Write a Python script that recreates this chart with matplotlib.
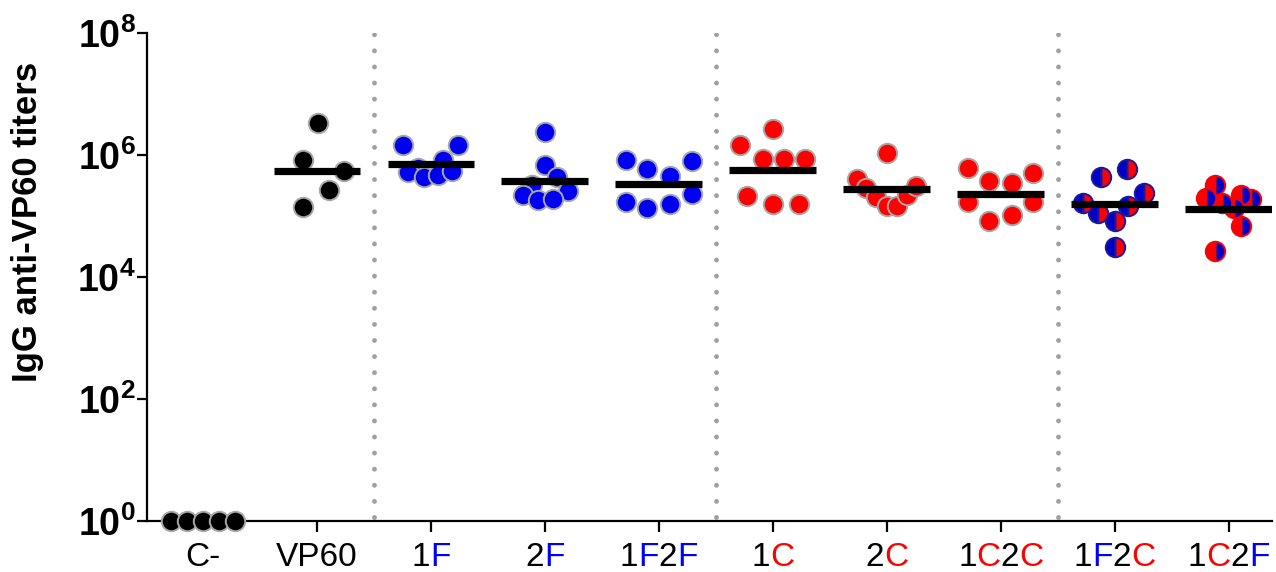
import matplotlib
matplotlib.use('Agg')
import matplotlib.pyplot as plt
import matplotlib.transforms as mtransforms
import numpy as np

plt.rcParams['font.family'] = ['Liberation Sans', 'DejaVu Sans']
plt.rcParams['mathtext.fontset'] = 'custom'
plt.rcParams['mathtext.rm'] = 'Liberation Sans'
plt.rcParams['mathtext.bf'] = 'Liberation Sans:bold'

# ---------------- data (log10 of IgG anti-VP60 titers) ----------------
categories = ['C-', 'VP60', '1F', '2F', '1F2F', '1C', '2C', '1C2C', '1F2C', '1C2F']
BLACK, BLUE, RED = '#000000', '#0000ff', '#ff0000'
label_parts = [
    [('C-', BLACK)],
    [('VP60', BLACK)],
    [('1', BLACK), ('F', BLUE)],
    [('2', BLACK), ('F', BLUE)],
    [('1', BLACK), ('F', BLUE), ('2', BLACK), ('F', BLUE)],
    [('1', BLACK), ('C', RED)],
    [('2', BLACK), ('C', RED)],
    [('1', BLACK), ('C', RED), ('2', BLACK), ('C', RED)],
    [('1', BLACK), ('F', BLUE), ('2', BLACK), ('C', RED)],
    [('1', BLACK), ('C', RED), ('2', BLACK), ('F', BLUE)],
]

cneg_log = [0.0, 0.0, 0.0, 0.0, 0.0]
vp60_log = [6.53, 5.92, 5.74, 5.43, 5.15]
f1_log = [6.16, 6.16, 5.92, 5.79, 5.72, 5.64, 5.67, 5.74]
f2_log = [6.38, 5.84, 5.64, 5.51, 5.41, 5.34, 5.26, 5.28]
f1f2_log = [5.92, 5.77, 5.66, 5.90, 5.36, 5.20, 5.13, 5.23]
c1_log = [6.43, 6.16, 5.93, 5.93, 5.93, 5.33, 5.20, 5.20]
c2_log = [6.03, 5.60, 5.46, 5.31, 5.16, 5.16, 5.34, 5.49]
c1c2_log = [5.79, 5.57, 5.54, 5.70, 5.23, 5.23, 5.02, 4.92]
f1c2_log = [5.64, 5.77, 5.38, 5.21, 5.05, 4.92, 5.16, 4.49]
c1f2_log = [5.51, 5.30, 5.21, 5.34, 5.28, 5.13, 4.84, 4.43]

# geometric means (log10) shown as horizontal bars
gmean_log = [None, 5.74, 5.85, 5.57, 5.52, 5.75, 5.44, 5.36, 5.20, 5.11]

group_values = [cneg_log, vp60_log, f1_log, f2_log, f1f2_log, c1_log,
                c2_log, c1c2_log, f1c2_log, c1f2_log]

# horizontal scatter offsets (layout only)
group_offsets = [
    [-0.28, -0.14, 0.0, 0.14, 0.28],
    [0.01, -0.12, 0.24, 0.11, -0.12],
    [-0.24, 0.24, 0.11, -0.11, -0.20, -0.06, 0.06, 0.19],
    [0.0, 0.0, 0.11, -0.11, 0.20, -0.19, -0.06, 0.07],
    [-0.29, -0.10, 0.10, 0.29, 0.29, 0.10, -0.10, -0.29],
    [0.0, -0.29, -0.09, 0.10, 0.28, -0.23, 0.0, 0.23],
    [0.0, -0.26, -0.18, -0.09, 0.0, 0.09, 0.18, 0.26],
    [-0.29, -0.10, 0.10, 0.28, -0.29, 0.28, 0.10, -0.10],
    [-0.12, 0.11, 0.26, -0.28, -0.15, 0.0, 0.12, 0.0],
    [-0.12, -0.20, -0.06, 0.11, 0.20, 0.05, 0.11, -0.12],
]

separators = [1.5, 4.5, 7.5]
yticks_exp = [0, 2, 4, 6, 8]

# ---------------- styles ----------------
GRAY_EDGE = '#a8a8a8'
styles = [
    dict(mfc='black', mec=GRAY_EDGE),
    dict(mfc='black', mec=GRAY_EDGE),
    dict(mfc='#0000f0', mec=GRAY_EDGE),
    dict(mfc='#0000f0', mec=GRAY_EDGE),
    dict(mfc='#0000f0', mec=GRAY_EDGE),
    dict(mfc='#ff0000', mec=GRAY_EDGE),
    dict(mfc='#ff0000', mec=GRAY_EDGE),
    dict(mfc='#ff0000', mec=GRAY_EDGE),
    dict(mfc='#0000c8', mfcalt='#ff0000', mec='#1a1aa0', fillstyle='left'),
    dict(mfc='#ff0000', mfcalt='#0000c8', mec='#ff0000', fillstyle='left'),
]

W, H, DPI = 12.76, 5.72, 100
fig = plt.figure(figsize=(W, H), dpi=DPI)
ax = fig.add_axes([147 / 1276, 51 / 572, (1272 - 147) / 1276, (521 - 33) / 572])

ax.set_yscale('log')
ax.set_ylim(1, 1e8)
ax.set_xlim(-0.49, 9.38)

for sx in separators:
    ax.plot([sx, sx], [1.15, 1e8], color='#a0a0a0', lw=3.5,
            linestyle=(0, (0.01, 3.3)), dash_capstyle='round', zorder=1)

for i, (vals, offs, st) in enumerate(zip(group_values, group_offsets, styles)):
    xs = i + np.array(offs)
    ys = 10 ** np.array(vals)
    kw = dict(marker='o', linestyle='none', markersize=14, markeredgewidth=1.4,
              markerfacecolor=st['mfc'], markeredgecolor=st['mec'], zorder=3,
              clip_on=False)
    if 'fillstyle' in st:
        kw['fillstyle'] = st['fillstyle']
        kw['markerfacecoloralt'] = st['mfcalt']
    ax.plot(xs, ys, **kw)
    if gmean_log[i] is not None:
        g = 10 ** gmean_log[i]
        ax.plot([i - 0.38, i + 0.38], [g, g], color='black', lw=5.2,
                solid_capstyle='butt', zorder=4)

# axes styling
for s in ['top', 'right']:
    ax.spines[s].set_visible(False)
for s in ['left', 'bottom']:
    ax.spines[s].set_linewidth(1.6)
ax.minorticks_off()
ax.set_yticks([10.0 ** e for e in yticks_exp])
ax.set_yticklabels([r'$\mathbf{10^{%d}}$' % e for e in yticks_exp])
ax.tick_params(axis='y', length=7, width=1.6, labelsize=27, pad=1)
ax.set_xticks(range(len(categories)))
ax.set_xticklabels([''] * len(categories))
ax.tick_params(axis='x', length=8, width=1.6)

fig.text(28 / 1276, (572 - 222) / 572, 'IgG anti-VP60 titers', rotation=90,
         fontsize=25, fontweight='bold', ha='center', va='center')

# multicoloured x tick labels
fig.canvas.draw()
renderer = fig.canvas.get_renderer()
for i, parts in enumerate(label_parts):
    texts = [ax.text(i, 0, s, color=c, fontsize=24, ha='left', va='baseline',
                     transform=ax.get_xaxis_transform()) for s, c in parts]
    widths = [t.get_window_extent(renderer).width for t in texts]
    total = sum(widths)
    cum = -total / 2
    for t, w in zip(texts, widths):
        t.set_transform(ax.get_xaxis_transform() +
                        mtransforms.ScaledTranslation(cum / DPI, -45 / DPI,
                                                      fig.dpi_scale_trans))
        cum += w

fig.savefig('out.png', dpi=DPI)
